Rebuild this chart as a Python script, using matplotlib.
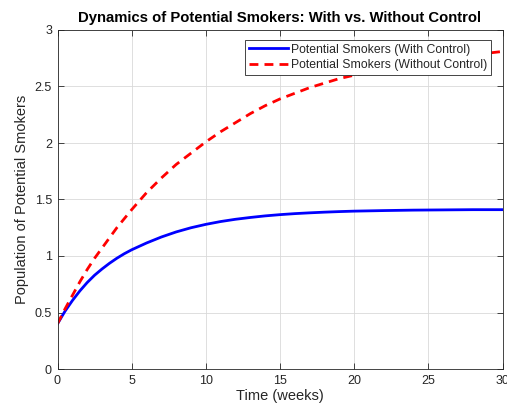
import matplotlib
matplotlib.use("Agg")
import matplotlib.pyplot as plt

# Time in weeks and the two population trajectories
t_with = [0, 0.5, 1, 1.5, 2, 2.5, 3, 3.5, 4, 4.5, 5, 6, 7, 8, 9, 10, 11, 12, 13,
          14, 15, 16, 17, 18, 19, 20, 22, 24, 26, 28, 30]
with_control = [0.40, 0.51, 0.605, 0.69, 0.765, 0.83, 0.885, 0.935, 0.98, 1.02, 1.055,
                1.115, 1.168, 1.213, 1.25, 1.28, 1.305, 1.325, 1.341, 1.355, 1.366,
                1.375, 1.382, 1.388, 1.393, 1.397, 1.402, 1.406, 1.408, 1.41, 1.41]

t_without = [0, 0.5, 1, 1.5, 2, 2.5, 3, 3.5, 4, 4.5, 5, 6, 7, 8, 9, 10, 11, 12, 13,
             14, 15, 16, 17, 18, 19, 20, 22, 24, 26, 28, 30]
without_control = [0.40, 0.53, 0.65, 0.77, 0.88, 0.98, 1.07, 1.16, 1.25, 1.33, 1.41,
                   1.56, 1.69, 1.81, 1.91, 2.01, 2.10, 2.18, 2.26, 2.33, 2.39, 2.44,
                   2.49, 2.53, 2.57, 2.60, 2.66, 2.71, 2.75, 2.78, 2.81]

x_ticks = [0, 5, 10, 15, 20, 25, 30]
y_ticks = [0, 0.5, 1, 1.5, 2, 2.5, 3]
y_tick_labels = ["0", "0.5", "1", "1.5", "2", "2.5", "3"]

plt.rcParams["font.family"] = ["Liberation Sans", "DejaVu Sans"]
ink = "#262626"

fig = plt.figure(figsize=(5.07, 4.11), dpi=100)
ax = fig.add_axes([57.5 / 507, 42 / 411, 445 / 507, 339 / 411])

ax.plot(t_with, with_control, color="#0000ff", lw=2.0,
        solid_joinstyle="round", label="Potential Smokers (With Control)")
ax.plot(t_without, without_control, color="#ff0000", lw=2.0,
        linestyle=(0, (3.2, 2.2)), label="Potential Smokers (Without Control)")

ax.set_xlim(0, 30)
ax.set_ylim(0, 3)
ax.set_xticks(x_ticks)
ax.set_yticks(y_ticks)
ax.set_yticklabels(y_tick_labels)
ax.tick_params(direction="in", length=4, width=0.6, colors=ink, labelsize=9,
               top=True, right=True, pad=4)
ax.grid(True, color="#d9d9d9", lw=0.6)
ax.set_axisbelow(True)
for s in ax.spines.values():
    s.set_color(ink)
    s.set_linewidth(0.6)

ax.set_xlabel("Time (weeks)", fontsize=10.5, color=ink, labelpad=2)
ax.set_ylabel("Population of Potential Smokers", fontsize=10.5, color=ink, labelpad=4)
ax.set_title("Dynamics of Potential Smokers: With vs. Without Control",
             fontsize=10.7, fontweight="bold", color="#000000", pad=6)

leg = ax.legend(loc="upper right", bbox_to_anchor=(0.9742, 0.9705), borderaxespad=0,
                fontsize=8.8, frameon=True, fancybox=False, framealpha=1.0,
                handlelength=3.2, handletextpad=0.25, labelspacing=0.3, borderpad=0.3)
leg.get_frame().set_edgecolor(ink)
leg.get_frame().set_linewidth(0.6)
leg.set_zorder(5)
for txt in leg.get_texts():
    txt.set_color(ink)

fig.savefig("out.png", dpi=100)
